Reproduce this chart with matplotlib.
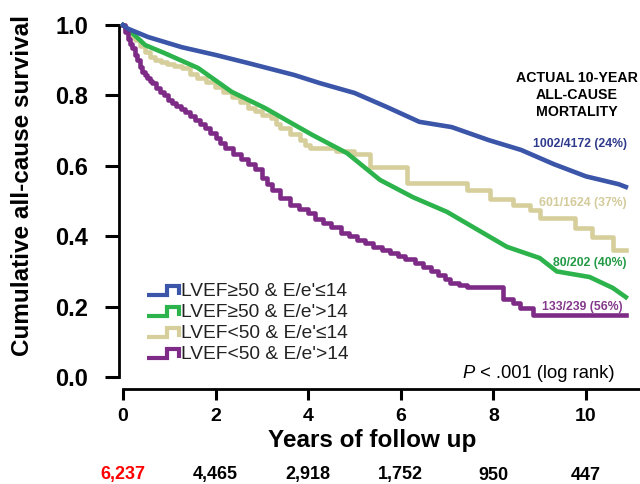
import matplotlib
matplotlib.use("Agg")
import matplotlib.pyplot as plt
from matplotlib.lines import Line2D
from matplotlib.legend_handler import HandlerBase

plt.rcParams['font.family'] = ['Liberation Sans', 'DejaVu Sans']

# ---------------- data ----------------
blue_t = [0, 0.1, 0.54, 1.27, 2.0, 2.7, 3.7, 4.25, 5.0, 5.7, 6.4, 7.1, 7.9, 8.6, 9.3, 10.0, 10.7, 10.86]
blue_s = [1.0, 0.99, 0.966, 0.937, 0.915, 0.892, 0.858, 0.835, 0.807, 0.767, 0.725, 0.71, 0.673, 0.645, 0.605, 0.57, 0.548, 0.54]

green_t = [0, 0.26, 0.48, 0.9, 1.62, 2.35, 3.07, 3.71, 4.1, 4.84, 5.55, 6.26, 7.0, 7.56, 8.29, 9.0, 9.37, 10.08, 10.58, 10.86]
green_s = [1.0, 0.97, 0.943, 0.92, 0.878, 0.81, 0.764, 0.716, 0.687, 0.636, 0.56, 0.511, 0.469, 0.426, 0.37, 0.338, 0.30, 0.284, 0.253, 0.227]

tan_t = [0, 0.05, 0.1, 0.18, 0.26, 0.37, 0.48, 0.58, 0.69, 0.82, 0.95, 1.1, 1.27, 1.45, 1.6, 1.8, 1.99, 2.17,
         2.35, 2.52, 2.7, 2.85, 3.0, 3.2, 3.3, 3.39, 3.6, 3.82, 3.93, 4.04, 4.6, 5.0, 5.33, 6.13, 7.43, 7.93,
         8.42, 8.79, 9.0, 9.76, 10.13, 10.58, 10.86]
tan_s = [1.0, 0.99, 0.98, 0.967, 0.957, 0.94, 0.923, 0.91, 0.9, 0.895, 0.89, 0.884, 0.878, 0.862, 0.85, 0.837, 0.824, 0.81,
         0.795, 0.78, 0.764, 0.755, 0.745, 0.736, 0.72, 0.707, 0.69, 0.673, 0.66, 0.65, 0.643, 0.635, 0.597, 0.551, 0.531, 0.506,
         0.489, 0.474, 0.452, 0.423, 0.398, 0.36, 0.36]

purple_t = [0, 0.05, 0.1, 0.15, 0.19, 0.25, 0.3, 0.36, 0.41, 0.47, 0.52, 0.58, 0.63, 0.72, 0.8, 0.88, 0.97, 1.06,
            1.15, 1.25, 1.34, 1.45, 1.55, 1.66, 1.77, 1.88, 2.0, 2.1, 2.2, 2.38, 2.55, 2.7, 2.85, 3.0, 3.1, 3.22,
            3.4, 3.6, 3.8, 4.0, 4.15, 4.32, 4.5, 4.7, 4.88, 5.05, 5.22, 5.4, 5.6, 5.77, 5.95, 6.1, 6.3, 6.48,
            6.65, 6.8, 6.95, 7.06, 7.25, 7.43, 8.2, 8.42, 8.58, 8.85, 10.86]
purple_s = [1.0, 0.98, 0.96, 0.945, 0.935, 0.915, 0.9, 0.882, 0.866, 0.857, 0.85, 0.842, 0.835, 0.822, 0.81, 0.8, 0.787, 0.778,
            0.77, 0.762, 0.753, 0.742, 0.73, 0.718, 0.707, 0.694, 0.68, 0.665, 0.65, 0.635, 0.62, 0.605, 0.59, 0.565, 0.548, 0.53,
            0.51, 0.49, 0.477, 0.465, 0.45, 0.437, 0.425, 0.41, 0.4, 0.39, 0.38, 0.37, 0.36, 0.352, 0.343, 0.335, 0.325, 0.313,
            0.3, 0.29, 0.278, 0.267, 0.262, 0.256, 0.222, 0.21, 0.195, 0.176, 0.176]

series_labels = ["LVEF\u226550 & E/e'\u226414", "LVEF\u226550 & E/e'>14",
                 "LVEF<50 & E/e'\u226414", "LVEF<50 & E/e'>14"]
series_colors = ['#3b55a8', '#2cb34b', '#d6cf9c', '#7d2b86']
count_labels = ["1002/4172 (24%)", "601/1624 (37%)", "80/202 (40%)", "133/239 (56%)"]
count_colors = ['#2e3a8c', '#d3cb9a', '#239a45', '#843a8c']

xticks = [0, 2, 4, 6, 8, 10]
yticks = [0.0, 0.2, 0.4, 0.6, 0.8, 1.0]
at_risk = ["6,237", "4,465", "2,918", "1,752", "950", "447"]

W, H = 640, 484
def fx(px):
    return px / W
def fy(py):
    return 1 - py / H

fig = plt.figure(figsize=(6.4, 4.84), dpi=100)
ax = fig.add_axes([fx(119), fy(389), 521 / W, 368.2 / H])
ax.set_xlim(-0.086, 11.166)
ax.set_ylim(-0.034, 1.012)

lw = 3.3
ax.plot(blue_t, blue_s, color=series_colors[0], lw=lw, solid_joinstyle='round', label=series_labels[0], zorder=4)
ax.plot(green_t, green_s, color=series_colors[1], lw=lw, solid_joinstyle='round', label=series_labels[1], zorder=3)
ax.plot(tan_t, tan_s, color=series_colors[2], lw=lw, drawstyle='steps-post', label=series_labels[2], zorder=2)
ax.plot(purple_t, purple_s, color=series_colors[3], lw=lw, drawstyle='steps-post', label=series_labels[3], zorder=3)

for s in ['top', 'right']:
    ax.spines[s].set_visible(False)
ax.spines['left'].set_bounds(0, 1)
ax.spines['bottom'].set_bounds(0, 11.166)
for s in ['left', 'bottom']:
    ax.spines[s].set_linewidth(2.0)
    ax.spines[s].set_color('black')

ax.set_xticks(xticks)
ax.set_xticklabels([str(v) for v in xticks])
ax.set_yticks(yticks)
ax.set_yticklabels([f"{v:.1f}" for v in yticks])
ax.tick_params(axis='y', direction='out', length=10, width=2.2, pad=12, labelsize=17)
ax.tick_params(axis='x', direction='out', length=8, width=2.2, pad=6, labelsize=14)
for lab in ax.get_xticklabels() + ax.get_yticklabels():
    lab.set_fontweight('bold')

fig.text(fx(23), fy(186), "Cumulative all-cause survival", rotation=90, ha='center', va='center',
         fontsize=17.5, fontweight='bold')
fig.text(fx(372), fy(441), "Years of follow up", ha='center', va='center', fontsize=17.5, fontweight='bold')

# number at risk row
for i, (t, n) in enumerate(zip(xticks, at_risk)):
    ax.text(t, -(475 - 389) / 368.2, n, ha='center', va='center', fontsize=13, fontweight='bold',
            color='#ff0000' if i == 0 else 'black', transform=ax.get_xaxis_transform(), clip_on=False)

# mortality header and count labels
for k, line in enumerate(["ACTUAL 10-YEAR", "ALL-CAUSE", "MORTALITY"]):
    fig.text(fx(577), fy(78 + k * 17), line, ha='center', va='center', fontsize=10.2, fontweight='bold')
count_pos = [(580, 144), (583, 203), (590, 263), (582, 307)]
for (px, py), txt, c in zip(count_pos, count_labels, count_colors):
    fig.text(fx(px), fy(py), txt, ha='center', va='center', fontsize=8.8, fontweight='bold', color=c)

# P value
fig.text(fx(615), fy(373), " < .001 (log rank)", ha='right', va='center', fontsize=13.2)
fig.text(fx(462), fy(373), "P", ha='left', va='center', fontsize=13.2, fontstyle='italic')


class StepHandler(HandlerBase):
    def create_artists(self, legend, orig_handle, xdescent, ydescent, width, height, fontsize, trans):
        x0, y0 = -xdescent, -ydescent
        lo, hi = y0 + 0.1 * height, y0 + 0.75 * height
        xs = [x0, x0 + 0.62 * width, x0 + 0.62 * width, x0 + width, x0 + width]
        ys = [lo, lo, hi, hi, lo]
        ln = Line2D(xs, ys, color=orig_handle.get_color(), lw=3.0, solid_joinstyle='miter',
                    solid_capstyle='butt')
        ln.set_transform(trans)
        return [ln]


handles = ax.get_lines()
leg = ax.legend(handles=handles, labels=series_labels, loc='upper left',
                bbox_to_anchor=(fx(147), fy(283)), bbox_transform=fig.transFigure,
                frameon=False, fontsize=13.8, handlelength=1.65, handletextpad=0.12,
                labelspacing=0.18, borderpad=0, borderaxespad=0,
                handler_map={Line2D: StepHandler()})
for t in leg.get_texts():
    t.set_color('#222222')

fig.savefig("out.png", dpi=100)
